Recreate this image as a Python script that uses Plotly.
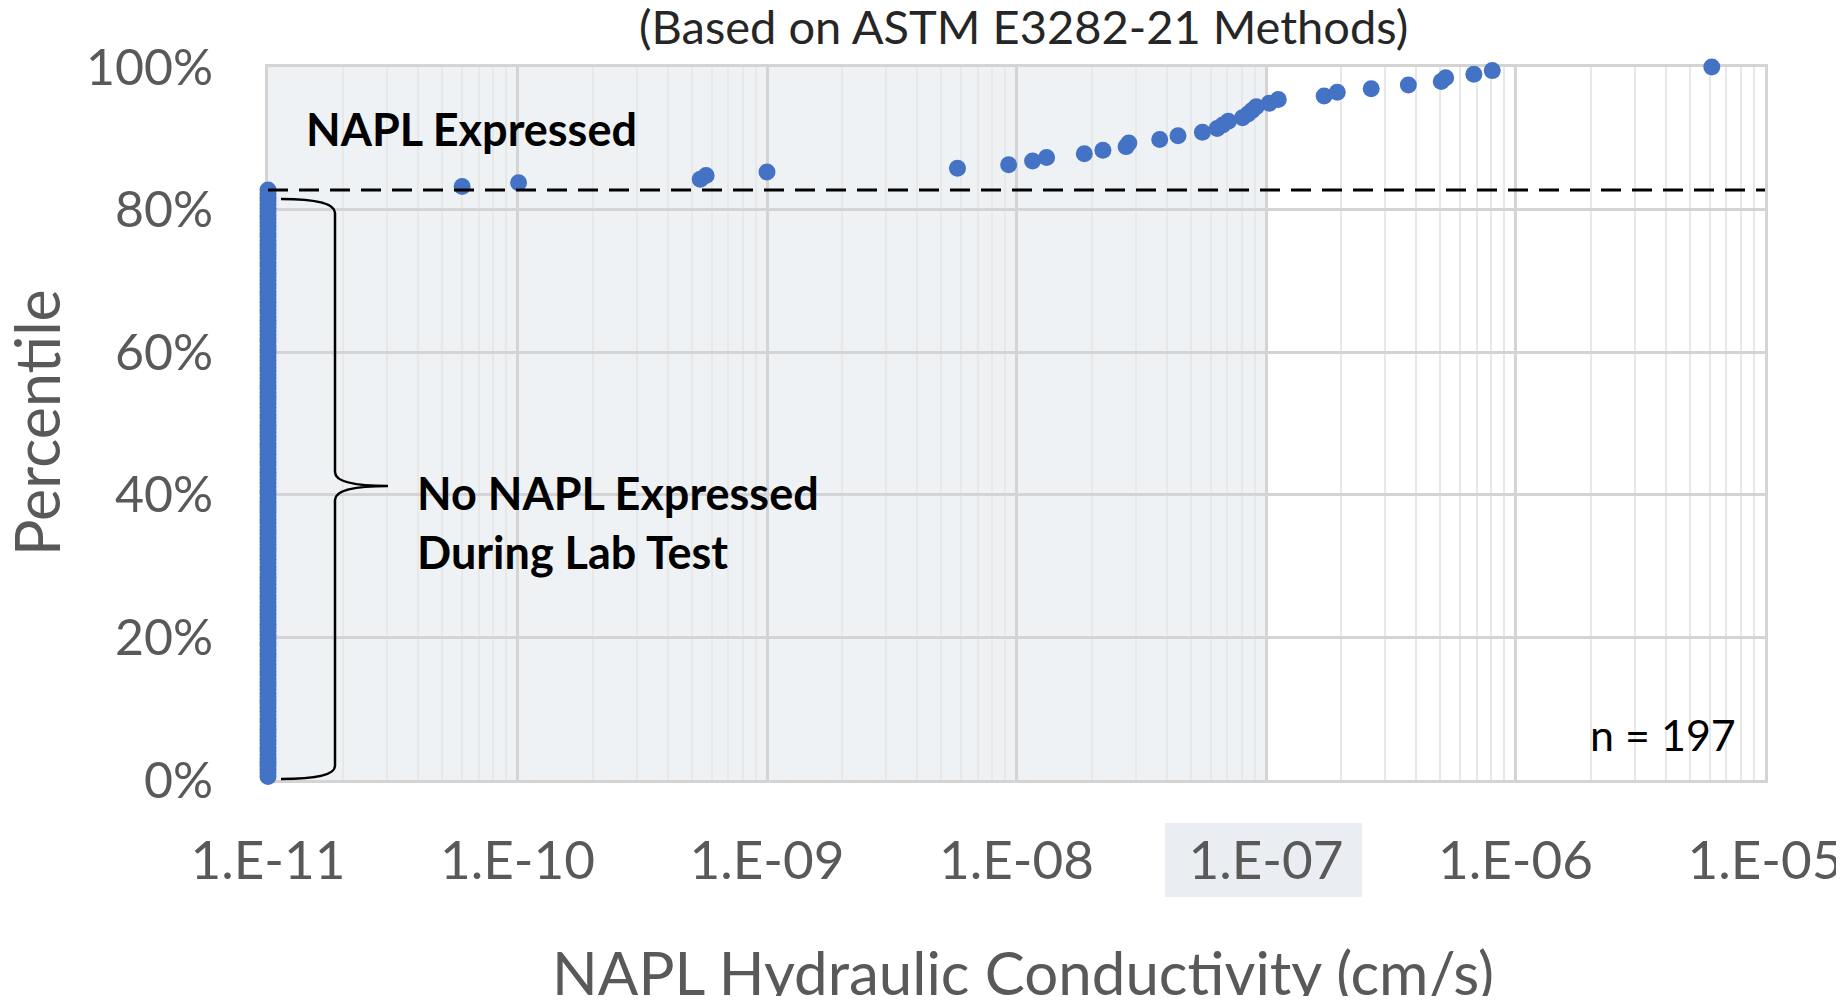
import plotly.graph_objects as go

# ---------------- data ----------------
n_total = 197
n_no_napl = 163              # samples with no NAPL expressed (plotted at detection floor)
floor_value = 1e-11
# NAPL hydraulic conductivity of the samples that expressed NAPL (cm/s), sorted
k_expressed = [6.0e-11, 1.01e-10, 5.4e-10, 5.7e-10, 1.0e-9, 5.8e-9, 9.3e-9, 1.16e-8,
               1.32e-8, 1.87e-8, 2.22e-8, 2.75e-8, 2.82e-8, 3.75e-8, 4.44e-8, 5.56e-8,
               6.37e-8, 6.71e-8, 7.06e-8, 8.05e-8, 8.47e-8, 8.79e-8, 9.14e-8, 1.03e-7,
               1.12e-7, 1.71e-7, 1.93e-7, 2.64e-7, 3.72e-7, 5.04e-7, 5.25e-7, 6.81e-7,
               8.07e-7, 6.12e-6]
x_tick_vals = [1e-11, 1e-10, 1e-9, 1e-8, 1e-7, 1e-6, 1e-5]
x_tick_text = ["1.E-11", "1.E-10", "1.E-09", "1.E-08", "1.E-07", "1.E-06", "1.E-05"]
y_tick_vals = [0, 0.2, 0.4, 0.6, 0.8, 1.0]
shade_range = [1e-11, 1e-7]

# ---------------- derived ----------------
all_k = [floor_value] * n_no_napl + k_expressed
pct = [(i + 1) / n_total for i in range(len(all_k))]
threshold = n_no_napl / n_total

minor_vals = [m * 10.0 ** e for e in range(-11, -5) for m in range(2, 10)]

FONT = "Lato"
GRAY = "#595959"
BLUE = "#4472C4"

# the page body adds an 8px margin; figure is sized to fit inside the window
OFF = 8
FIG_W, FIG_H = 1844 - OFF, 1004 - 2 * OFF
# plot area in reference-window pixels
L, R, T, B = 268, 1765, 67, 780
W, H = R - L, B - T
def px(x):
    return (x - L) / W
def py(y):
    return (B - y) / H

fig = go.Figure()

fig.add_trace(go.Scatter(
    x=all_k, y=pct, mode="markers",
    marker=dict(color=BLUE, size=17, line=dict(width=0)),
    cliponaxis=False, showlegend=False, hoverinfo="x+y"))

# threshold dashed line
fig.add_trace(go.Scatter(
    x=[floor_value, x_tick_vals[-1]], y=[threshold, threshold], mode="lines",
    line=dict(color="black", width=3, dash="20px,11px"),
    showlegend=False, hoverinfo="skip"))

shapes = []
# shaded region 1E-11 .. 1E-7
shapes.append(dict(type="rect", xref="x", yref="paper",
                   x0=shade_range[0], x1=shade_range[1], y0=0, y1=1,
                   fillcolor="#EFF2F4", line=dict(width=0), layer="below"))
# highlight box behind 1.E-07 tick label
shapes.append(dict(type="rect", xref="paper", yref="paper",
                   x0=px(1165), x1=px(1362), y0=py(897), y1=py(823),
                   fillcolor="#EAEEF2", line=dict(width=0), layer="below"))
# curly brace
pts = [(281, 199), (335, 199), (335, 213), (335, 472), (335, 486), (388, 486),
       (335, 486), (335, 500), (335, 766), (335, 779), (281, 779)]
P = [(px(a), py(b)) for a, b in pts]
path = (f"M {P[0][0]},{P[0][1]} Q {P[1][0]},{P[1][1]} {P[2][0]},{P[2][1]} "
        f"L {P[3][0]},{P[3][1]} Q {P[4][0]},{P[4][1]} {P[5][0]},{P[5][1]} "
        f"Q {P[6][0]},{P[6][1]} {P[7][0]},{P[7][1]} "
        f"L {P[8][0]},{P[8][1]} Q {P[9][0]},{P[9][1]} {P[10][0]},{P[10][1]}")
shapes.append(dict(type="path", xref="paper", yref="paper", path=path,
                   line=dict(color="black", width=2.5), layer="above"))

annotations = [
    dict(text="(Based on ASTM E3282-21 Methods)", x=px(1023), y=py(26),
         xref="paper", yref="paper", showarrow=False, xanchor="center", yanchor="middle",
         font=dict(family=FONT, size=47, color="#262626")),
    dict(text="NAPL Hydraulic Conductivity (cm/s)", x=px(1023), y=py(972),
         xref="paper", yref="paper", showarrow=False, xanchor="center", yanchor="middle",
         font=dict(family=FONT, size=60, color=GRAY)),
    dict(text="Percentile", x=px(36), y=py(423), textangle=-90,
         xref="paper", yref="paper", showarrow=False, xanchor="center", yanchor="middle",
         font=dict(family=FONT, size=61, color=GRAY)),
    dict(text="<b>NAPL Expressed</b>", x=px(304), y=py(129),
         xref="paper", yref="paper", showarrow=False, xanchor="left", yanchor="middle",
         font=dict(family=FONT, size=45, color="black")),
    dict(text="<b>No NAPL Expressed<br>During Lab Test</b>", x=px(415), y=py(522),
         xref="paper", yref="paper", showarrow=False, xanchor="left", yanchor="middle",
         align="left", font=dict(family=FONT, size=45, color="black")),
    dict(text="n = 197", x=px(1738), y=py(734),
         xref="paper", yref="paper", showarrow=False, xanchor="right", yanchor="middle",
         font=dict(family=FONT, size=43, color="black")),
]

fig.update_layout(
    width=FIG_W, height=FIG_H,
    margin=dict(l=L - OFF, r=FIG_W - (R - OFF), t=T - OFF, b=FIG_H - (B - OFF),
                autoexpand=False),
    paper_bgcolor="white", plot_bgcolor="white",
    shapes=shapes, annotations=annotations,
    xaxis=dict(type="log", range=[-11, -5], tickvals=x_tick_vals, ticktext=x_tick_text,
               tickfont=dict(family=FONT, size=53, color=GRAY), ticklabelstandoff=32,
               showgrid=True, gridcolor="#D4D4D4", gridwidth=2.5,
               minor=dict(tickvals=minor_vals, showgrid=True, gridcolor="#E8E8E8", gridwidth=2),
               showline=True, linecolor="#D4D4D4", linewidth=3, mirror=True,
               zeroline=False, ticks="", layer="below traces"),
    yaxis=dict(range=[0, 1], tickvals=y_tick_vals, tickformat=".0%",
               tickfont=dict(family=FONT, size=50, color=GRAY), ticklabelstandoff=42,
               showgrid=True, gridcolor="#D4D4D4", gridwidth=3,
               showline=True, linecolor="#D4D4D4", linewidth=3, mirror=True,
               zeroline=False, ticks="", layer="below traces"),
)

fig.write_html("out.html")
